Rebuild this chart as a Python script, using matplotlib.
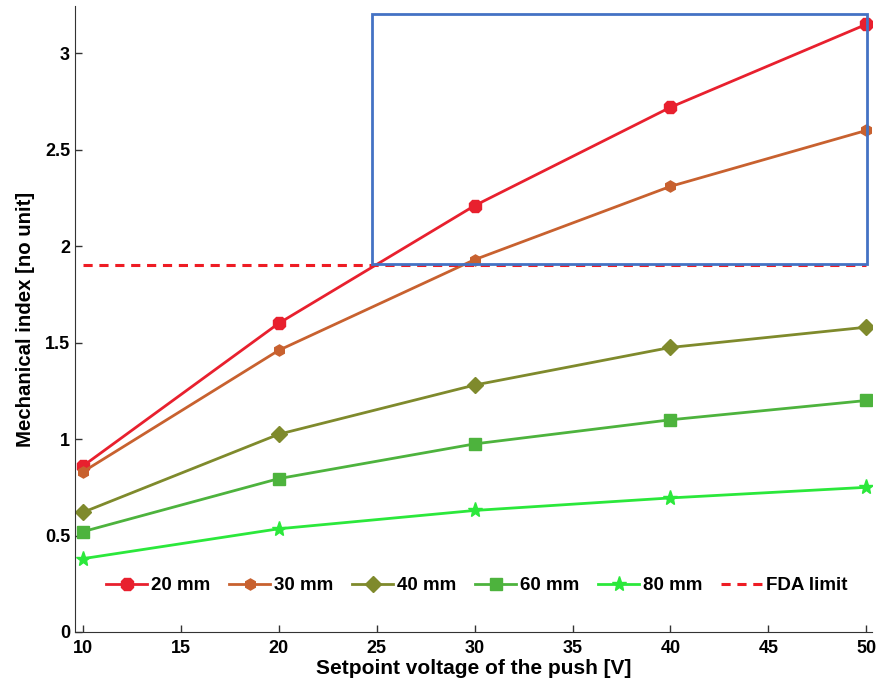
import matplotlib
matplotlib.use("Agg")
import matplotlib.pyplot as plt
from matplotlib.patches import Rectangle
from matplotlib import font_manager

voltage = [10, 20, 30, 40, 50]
mi_20mm = [0.86, 1.60, 2.21, 2.72, 3.15]
mi_30mm = [0.83, 1.46, 1.93, 2.31, 2.60]
mi_40mm = [0.62, 1.025, 1.28, 1.475, 1.58]
mi_60mm = [0.52, 0.795, 0.975, 1.10, 1.20]
mi_80mm = [0.38, 0.535, 0.63, 0.695, 0.75]
fda_limit = 1.9
labels = ["20 mm", "30 mm", "40 mm", "60 mm", "80 mm", "FDA limit"]
xticks = [10, 15, 20, 25, 30, 35, 40, 45, 50]
yticks = [0, 0.5, 1, 1.5, 2, 2.5, 3]

names = {f.name for f in font_manager.fontManager.ttflist}
fam = ["Liberation Sans Narrow"] if "Liberation Sans Narrow" in names else ["Liberation Sans"]
plt.rcParams['font.family'] = fam + ["DejaVu Sans"]
plt.rcParams['font.weight'] = 'bold'

fig = plt.figure(figsize=(8.8, 6.88), dpi=100)
ax = fig.add_axes([0.0852, 0.0814, 0.906, 0.9099])

series = [
    (mi_20mm, "#E8202E", "8", 10),
    (mi_30mm, "#C8612F", "h", 8),
    (mi_40mm, "#7F8A2C", "D", 8),
    (mi_60mm, "#4DB33D", "s", 8),
    (mi_80mm, "#2BE83B", "*", 11),
]
handles = []
for (vals, col, mk, ms), lab in zip(series, labels):
    h, = ax.plot(voltage, vals, color=col, marker=mk, markersize=ms,
                 linewidth=2, label=lab)
    handles.append(h)
h, = ax.plot([voltage[0], voltage[-1]], [fda_limit, fda_limit], color="#EE1C24",
             linestyle=(0, (3, 2.2)), linewidth=2.2, label=labels[-1])
handles.append(h)

ax.add_patch(Rectangle((24.75, 1.905), 25.3, 1.3, fill=False,
                       edgecolor="#4472C4", linewidth=2, zorder=5))

ax.set_xlim(9.6, 50.3)
ax.set_ylim(0, 3.245)
ax.set_xticks(xticks)
ax.set_xticklabels([str(t) for t in xticks])
ax.set_yticks(yticks)
ax.set_yticklabels(["0", "0.5", "1", "1.5", "2", "2.5", "3"])
ax.tick_params(direction="in", length=5, labelsize=13, width=1, color="#333333")
ax.tick_params(axis="x", pad=6)
for s in ["top", "right"]:
    ax.spines[s].set_visible(False)
for s in ["left", "bottom"]:
    ax.spines[s].set_color("#333333")
ax.set_xlabel("Setpoint voltage of the push [V]", fontsize=15, fontweight="bold", labelpad=1)
ax.set_ylabel("Mechanical index [no unit]", fontsize=14.7, fontweight="bold", labelpad=7)

leg = ax.legend(handles=handles, loc="center", bbox_to_anchor=(0.504, 0.074),
                ncol=6, frameon=False, fontsize=13.5, handlelength=2.2,
                handletextpad=0.2, columnspacing=1.0)
for t in leg.get_texts():
    t.set_fontweight("bold")

fig.savefig("out.png", dpi=100)
